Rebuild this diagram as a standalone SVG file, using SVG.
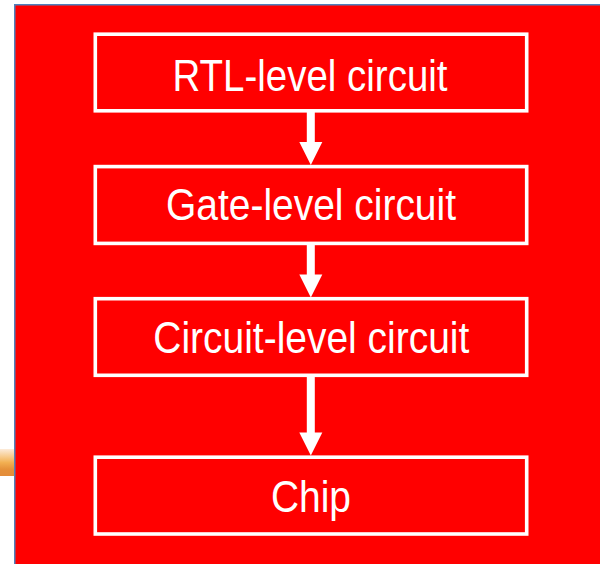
<svg xmlns="http://www.w3.org/2000/svg" width="600" height="564" viewBox="0 0 600 564">
  <style>
    .box { fill: none; stroke: #FFFFFF; stroke-width: 3.6; }
    .label { fill: #FFFFFF; font-family: "Liberation Sans", Arial, sans-serif; font-size: 45px; text-anchor: middle; }
    .arrow { fill: #FFFFFF; }
  </style>
  <defs>
    <linearGradient id="tab" x1="0" y1="0" x2="0" y2="1">
      <stop offset="0" stop-color="#FCEBDA"/>
      <stop offset="0.3" stop-color="#F7C988"/>
      <stop offset="0.5" stop-color="#F2B052"/>
      <stop offset="0.75" stop-color="#E5913A"/>
      <stop offset="1" stop-color="#E38C3A"/>
    </linearGradient>
  </defs>

  <!-- page background and side tab -->
  <rect x="0" y="0" width="600" height="564" fill="#FFFFFF"/>
  <rect x="0" y="449" width="14" height="27" fill="url(#tab)"/>

  <!-- red panel with blue outline -->
  <rect x="14.75" y="4.75" width="600" height="600" fill="#FF0000" stroke="#4F81BD" stroke-width="1.5"/>

  <!-- connectors -->
  <g id="connectors">
    <g id="edge-rtl-gate">
      <rect class="arrow" x="306.8" y="112" width="8" height="31"/>
      <polygon class="arrow" points="299.3,142 322.3,142 310.8,165"/>
    </g>
    <g id="edge-gate-circuit">
      <rect class="arrow" x="306.8" y="244.5" width="8" height="31"/>
      <polygon class="arrow" points="299.3,274.5 322.3,274.5 310.8,297.5"/>
    </g>
    <g id="edge-circuit-chip">
      <rect class="arrow" x="306.8" y="376.5" width="8" height="57"/>
      <polygon class="arrow" points="299.3,432.5 322.3,432.5 310.8,455.5"/>
    </g>
  </g>

  <!-- nodes -->
  <g id="node-rtl">
    <rect class="box" x="95.3" y="34.2" width="431.4" height="76.6"/>
    <text class="label" x="310" y="90.7" textLength="275" lengthAdjust="spacingAndGlyphs">RTL-level circuit</text>
  </g>
  <g id="node-gate">
    <rect class="box" x="95.3" y="166.6" width="431.4" height="76.8"/>
    <text class="label" x="311" y="220" textLength="290" lengthAdjust="spacingAndGlyphs">Gate-level circuit</text>
  </g>
  <g id="node-circuit">
    <rect class="box" x="95.3" y="298.7" width="431.4" height="76.6"/>
    <text class="label" x="311.3" y="353.3" textLength="316" lengthAdjust="spacingAndGlyphs">Circuit-level circuit</text>
  </g>
  <g id="node-chip">
    <rect class="box" x="95.3" y="457.2" width="431.4" height="76.8"/>
    <text class="label" x="311" y="511.5" textLength="80" lengthAdjust="spacingAndGlyphs">Chip</text>
  </g>
</svg>
